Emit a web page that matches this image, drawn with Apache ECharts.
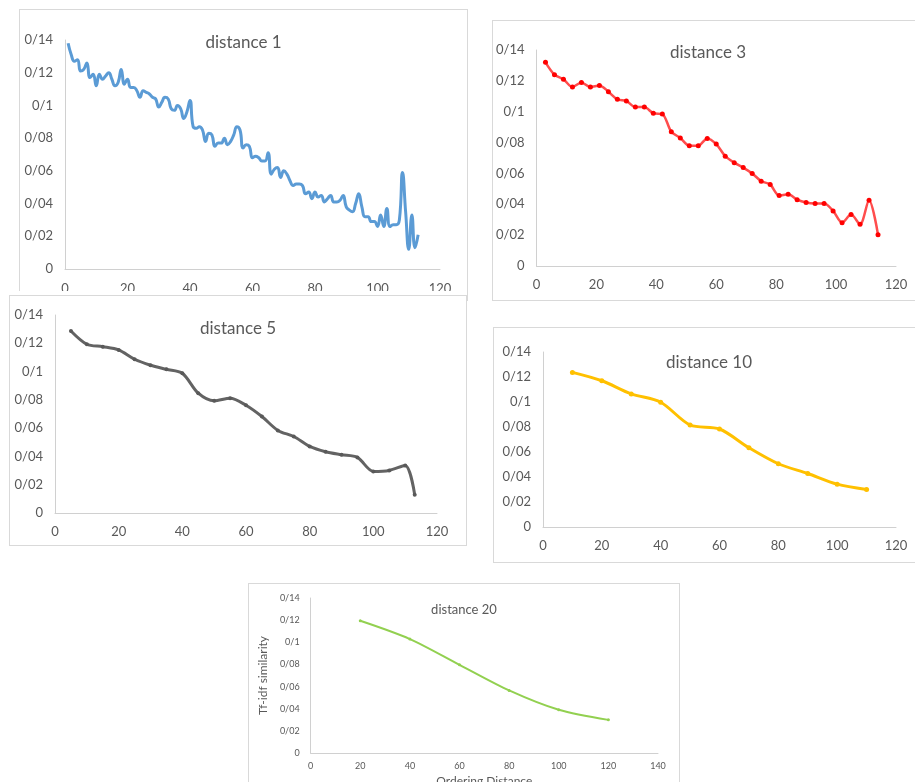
<!DOCTYPE html>
<html>
<head>
<meta charset="utf-8">
<script src="https://cdn.jsdelivr.net/npm/echarts/dist/echarts.min.js"></script>
<style>
body { margin: 0; width: 915px; height: 782px; position: relative; overflow: hidden; background: #fff; }
.panel { position: absolute; background: #fff; border: 1px solid #d9d9d9; box-sizing: border-box; }
#p3 { box-shadow: 0 -4px 0 0 #fff; }
</style>
</head>
<body>
<div id="p1" class="panel" style="left:19px;top:9px;width:449px;height:292px"></div>
<div id="p2" class="panel" style="left:492px;top:20px;width:432px;height:281px"></div>
<div id="p3" class="panel" style="left:9px;top:295px;width:458px;height:251px"></div>
<div id="p4" class="panel" style="left:493px;top:327px;width:432px;height:236px"></div>
<div id="p5" class="panel" style="left:248px;top:583px;width:432px;height:210px"></div>
<script>
// tick labels use "/" as the decimal mark, as in the source
const yTickLabels = ['0', '0/02', '0/04', '0/06', '0/08', '0/1', '0/12', '0/14']

// distance 1
const d1X = [1, 2, 3, 4, 5, 6, 7, 8, 9, 10, 11, 12, 13, 14, 15, 16, 17, 18, 19, 20,
  21, 22, 23, 24, 25, 26, 27, 28, 29, 30, 31, 32, 33, 34, 35, 36, 37, 38, 39, 40,
  41, 42, 43, 44, 45, 46, 47, 48, 49, 50, 51, 52, 53, 54, 55, 56, 57, 58, 59, 60,
  61, 62, 63, 64, 65, 66, 67, 68, 69, 70, 71, 72, 73, 74, 75, 76, 77, 78, 79, 80,
  81, 82, 83, 84, 85, 86, 87, 88, 89, 90, 91, 92, 93, 94, 95, 96, 97, 98, 99, 100,
  101, 102, 103, 104, 105, 106, 107, 108, 109, 110, 111, 112, 113]
const d1Y = [0.138, 0.131, 0.127, 0.128, 0.121, 0.122, 0.126, 0.117, 0.119, 0.112,
  0.119, 0.116, 0.118, 0.120, 0.116, 0.112, 0.114, 0.122, 0.113, 0.116,
  0.111, 0.111, 0.109, 0.105, 0.109, 0.108, 0.107, 0.105, 0.104, 0.099,
  0.102, 0.105, 0.104, 0.098, 0.097, 0.100, 0.098, 0.092, 0.096, 0.103,
  0.087, 0.086, 0.087, 0.085, 0.078, 0.083, 0.082, 0.075, 0.077, 0.077,
  0.080, 0.076, 0.078, 0.082, 0.087, 0.085, 0.074, 0.076, 0.075, 0.068,
  0.069, 0.068, 0.066, 0.066, 0.071, 0.058, 0.061, 0.062, 0.056, 0.060,
  0.058, 0.054, 0.051, 0.052, 0.052, 0.051, 0.046, 0.047, 0.043, 0.047,
  0.044, 0.045, 0.041, 0.043, 0.045, 0.041, 0.041, 0.042, 0.045, 0.038,
  0.036, 0.035, 0.040, 0.046, 0.038, 0.032, 0.032, 0.029, 0.029, 0.026,
  0.033, 0.026, 0.037, 0.026, 0.027, 0.027, 0.030, 0.059, 0.035, 0.012,
  0.033, 0.013, 0.021]

// distance 3
const d3X = [3, 6, 9, 12, 15, 18, 21, 24, 27, 30, 33, 36, 39, 42, 45, 48, 51, 54, 57,
  60, 63, 66, 69, 72, 75, 78, 81, 84, 87, 90, 93, 96, 99, 102, 105, 108, 111, 114]
const d3Y = [0.132, 0.124, 0.121, 0.116, 0.119, 0.116, 0.117, 0.113, 0.108, 0.107,
  0.103, 0.103, 0.099, 0.0985, 0.087, 0.083, 0.078, 0.078, 0.0827, 0.079,
  0.0712, 0.067, 0.0638, 0.060, 0.055, 0.0528, 0.0457, 0.0465, 0.043, 0.0411,
  0.0405, 0.0405, 0.0357, 0.0281, 0.0333, 0.027, 0.0426, 0.0203]

// distance 5
const d5X = [5, 10, 15, 20, 25, 30, 35, 40, 45, 50, 55, 60, 65, 70, 75, 80, 85, 90, 95,
  100, 105, 110, 113]
const d5Y = [0.1287, 0.1193, 0.1176, 0.1153, 0.1087, 0.1045, 0.1016, 0.0988, 0.0847,
  0.0793, 0.0812, 0.0762, 0.0682, 0.0584, 0.0541, 0.0471, 0.0433, 0.0412, 0.0393,
  0.0294, 0.0301, 0.0336, 0.0129]

// distance 10
const d10X = [10, 20, 30, 40, 50, 60, 70, 80, 90, 100, 110]
const d10Y = [0.1237, 0.117, 0.1065, 0.0998, 0.0816, 0.0784, 0.0634, 0.0506, 0.0428,
  0.0343, 0.030]

// distance 20
const d20X = [20, 40, 60, 80, 100, 120]
const d20Y = [0.1194, 0.1029, 0.0797, 0.0566, 0.0391, 0.030]

const fontFamily = 'Lato'
const textColor = '#595959'

function drawPanel(id, cfg) {
  const chart = echarts.init(document.getElementById(id))
  const option = {
    animation: false,
    textStyle: { fontFamily: fontFamily },
    title: {
      text: cfg.title,
      left: 'center',
      top: cfg.titleTop,
      textStyle: {
        color: textColor,
        fontSize: cfg.titleSize,
        fontWeight: 'normal',
        fontFamily: fontFamily
      }
    },
    grid: cfg.grid,
    xAxis: {
      type: 'value',
      min: 0,
      max: cfg.xMax,
      interval: 20,
      name: cfg.xName || '',
      nameLocation: 'middle',
      nameGap: 13,
      nameTextStyle: { color: textColor, fontSize: 12 },
      axisLine: { lineStyle: { color: '#d0d0d0', width: 1 } },
      axisTick: { show: false },
      splitLine: { show: false },
      axisLabel: {
        color: textColor,
        fontSize: cfg.labelSize,
        margin: cfg.xMargin,
        showMaxLabel: true
      }
    },
    yAxis: {
      type: 'value',
      min: 0,
      max: 0.14,
      interval: 0.02,
      name: cfg.yName || '',
      nameLocation: 'middle',
      nameRotate: 90,
      nameGap: 28,
      nameTextStyle: { color: textColor, fontSize: 12 },
      axisLine: { show: true, lineStyle: { color: '#d0d0d0', width: 1 } },
      axisTick: { show: false },
      splitLine: { show: false },
      axisLabel: {
        color: textColor,
        fontSize: cfg.labelSize,
        margin: cfg.yMargin,
        formatter: v => yTickLabels[Math.round(v / 0.02)]
      }
    },
    series: [{
      type: 'line',
      data: cfg.x.map((x, i) => [x, cfg.y[i]]),
      smooth: cfg.smooth,
      symbol: 'circle',
      showSymbol: cfg.symbolSize > 0,
      symbolSize: cfg.symbolSize,
      lineStyle: { color: cfg.lineColor, width: cfg.lineWidth },
      itemStyle: { color: cfg.color }
    }]
  }
  chart.setOption(option)
}

drawPanel('p1', {
  title: 'distance 1', titleTop: 19, titleSize: 17, labelSize: 13,
  grid: { left: 45, top: 30, right: 27, bottom: 31 },
  xMax: 120, xMargin: 13, yMargin: 12,
  x: d1X, y: d1Y, smooth: 0.5, symbolSize: 0,
  color: '#5b9bd5', lineColor: '#5b9bd5', lineWidth: 3
})

drawPanel('p2', {
  title: 'distance 3', titleTop: 18, titleSize: 17, labelSize: 13,
  grid: { left: 42, top: 29, right: 27, bottom: 34 },
  xMax: 120, xMargin: 12, yMargin: 12,
  x: d3X, y: d3Y, smooth: 0.3, symbolSize: 5,
  color: '#ff0000', lineColor: '#ff4d4d', lineWidth: 2.5
})

drawPanel('p3', {
  title: 'distance 5', titleTop: 19, titleSize: 17, labelSize: 13,
  grid: { left: 45, top: 19, right: 29, bottom: 32 },
  xMax: 120, xMargin: 12, yMargin: 12,
  x: d5X, y: d5Y, smooth: 0.3, symbolSize: 4,
  color: '#595959', lineColor: '#636363', lineWidth: 3
})

drawPanel('p4', {
  title: 'distance 10', titleTop: 21, titleSize: 17, labelSize: 13,
  grid: { left: 49, top: 24, right: 28, bottom: 35 },
  xMax: 120, xMargin: 12, yMargin: 12,
  x: d10X, y: d10Y, smooth: 0.3, symbolSize: 5,
  color: '#ffc000', lineColor: '#ffc000', lineWidth: 3
})

drawPanel('p5', {
  title: 'distance 20', titleTop: 14, titleSize: 13, labelSize: 9,
  grid: { left: 45, top: 14, right: 21, bottom: 30 },
  xMax: 140, xMargin: 8, yMargin: 11,
  xName: 'Ordering Distance', yName: 'Tf-idf similarity',
  x: d20X, y: d20Y, smooth: 0.3, symbolSize: 3,
  color: '#92d050', lineColor: '#92d050', lineWidth: 2
})
</script>
</body>
</html>
